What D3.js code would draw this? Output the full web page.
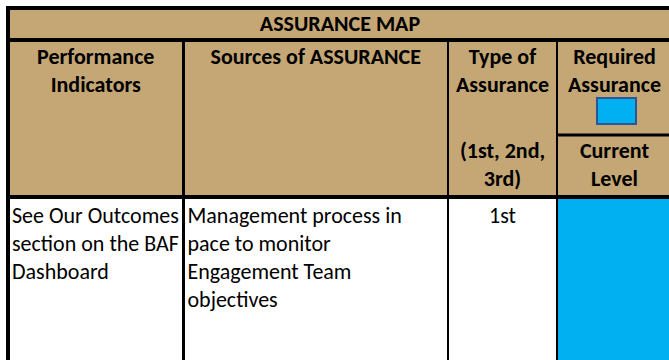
<!DOCTYPE html>
<html>
<head>
<meta charset="utf-8">
<script src="https://cdn.jsdelivr.net/npm/d3@7"></script>
<style>
  html, body { margin: 0; padding: 0; background: #ffffff; }
  svg { display: block; }
  text { font-family: Carlito, Lato, "Liberation Sans", sans-serif; fill: #000; }
</style>
</head>
<body>
<svg id="chart" width="669" height="360"></svg>
<script>
// ---- data ----
const title = "ASSURANCE MAP";
const columnHeaders = [
  ["Performance", "Indicators"],
  ["Sources of ASSURANCE"],
  ["Type of", "Assurance"],
  ["Required", "Assurance"]
];
const typeNote = ["(1st, 2nd,", "3rd)"];
const currentLabel = ["Current", "Level"];
const indicatorText = ["See Our Outcomes", "section on the BAF", "Dashboard"];
const sourceText = ["Management process in", "pace to monitor", "Engagement Team", "objectives"];
const typeValues = ["1st"];
const requiredLevel = ["blue"];
const currentLevel = ["blue"];

// ---- layout ----
const tan = "#c4a774";
const blue = "#00b0f0";
const svg = d3.select("#chart");
const W = 669, H = 360;
const colEdges = [8, 183.5, 448, 557, 672];
const colX = i => colEdges[i];
const colMid = i => (colEdges[i] + colEdges[i + 1]) / 2;
const yTop = 8, yTitle = 40, ySplit = 135, yHead = 197;
const fs = 22;
const y = d3.scaleLinear().domain([0, 1]).range([0, 28]); // line step

// backgrounds
svg.append("rect").attr("x", colX(0)).attr("y", yTop).attr("width", W).attr("height", yHead - yTop).attr("fill", tan);
svg.append("rect").attr("x", colX(3)).attr("y", yHead).attr("width", W).attr("height", H).attr("fill", currentLevel[0] === "blue" ? blue : "#fff");

// title
svg.append("text").attr("x", 340).attr("y", 31).attr("text-anchor", "middle")
  .attr("font-weight", "bold").attr("font-size", fs).text(title);

// column headers
const hdr = svg.append("g").attr("font-weight", "bold").attr("font-size", fs).attr("text-anchor", "middle");
columnHeaders.forEach((lines, i) => {
  hdr.selectAll(null).data(lines).join("text")
    .attr("x", colMid(i))
    .attr("y", (d, j) => 64 + y(j))
    .text(d => d);
});
hdr.selectAll(null).data(typeNote).join("text")
  .attr("x", colMid(2)).attr("y", (d, j) => 158 + y(j)).text(d => d);
hdr.selectAll(null).data(currentLabel).join("text")
  .attr("x", colMid(3)).attr("y", (d, j) => 158 + y(j)).text(d => d);

// required assurance swatch
svg.selectAll(null).data(requiredLevel).join("rect")
  .attr("x", 597).attr("y", 98).attr("width", 39).attr("height", 26)
  .attr("fill", blue).attr("stroke", "#2f5597").attr("stroke-width", 2);

// body text
const body = svg.append("g").attr("font-size", fs);
body.selectAll(null).data(indicatorText).join("text")
  .attr("x", 12).attr("y", (d, j) => 223 + y(j)).text(d => d);
body.selectAll(null).data(sourceText).join("text")
  .attr("x", 187.5).attr("y", (d, j) => 223 + y(j)).text(d => d);
body.selectAll(null).data(typeValues).join("text")
  .attr("x", colMid(2)).attr("y", 223).attr("text-anchor", "middle").text(d => d);

// grid lines
const lines = svg.append("g").attr("stroke", "#000");
lines.append("line").attr("x1", 6).attr("x2", W).attr("y1", 8).attr("y2", 8).attr("stroke-width", 4);
lines.append("line").attr("x1", 6).attr("x2", W).attr("y1", yTitle).attr("y2", yTitle).attr("stroke-width", 4);
lines.append("line").attr("x1", 6).attr("x2", W).attr("y1", yHead).attr("y2", yHead).attr("stroke-width", 4);
lines.append("line").attr("x1", colX(3)).attr("x2", W).attr("y1", ySplit).attr("y2", ySplit).attr("stroke-width", 3);
lines.append("line").attr("x1", 8).attr("x2", 8).attr("y1", 6).attr("y2", H).attr("stroke-width", 4);
lines.selectAll(null).data([1, 2, 3]).join("line")
  .attr("x1", i => colX(i)).attr("x2", i => colX(i))
  .attr("y1", yTitle).attr("y2", H)
  .attr("stroke-width", i => i === 1 ? 3 : 2);
</script>
</body>
</html>
